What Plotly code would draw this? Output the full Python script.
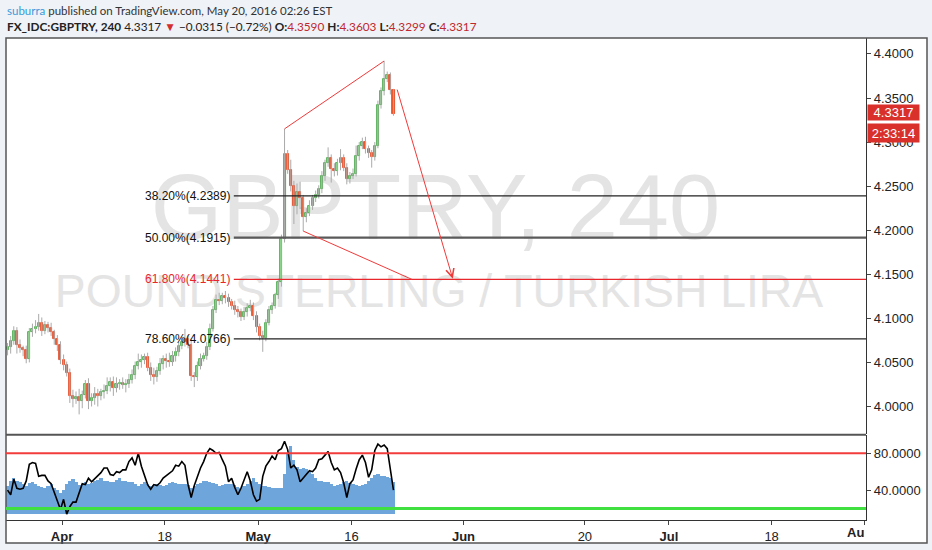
import numpy as np
import plotly.graph_objects as go

# ---------------- data ----------------
origin = "2016-04-01"          # trading-day index 0
first_day = "2016-03-24"       # first bar's trading day
bars_per_day = 3

first_open = 4.064
closes = [
    4.068, 4.074, 4.086, 4.070, 4.066, 4.064, 4.054, 4.085, 4.088, 4.090,
    4.095, 4.086, 4.092, 4.089, 4.084, 4.076, 4.070, 4.053, 4.047, 4.038,
    4.012, 4.009, 4.011, 4.006, 4.013, 4.026, 4.006, 4.010, 4.014, 4.012,
    4.016, 4.018, 4.023, 4.028, 4.021, 4.025, 4.027, 4.024, 4.026, 4.030,
    4.036, 4.046, 4.050, 4.053, 4.056, 4.044, 4.036, 4.033, 4.040, 4.048,
    4.054, 4.052, 4.050, 4.057, 4.062, 4.069, 4.073, 4.076, 4.070, 4.035,
    4.034, 4.046, 4.054, 4.057, 4.068, 4.088, 4.110, 4.121, 4.120, 4.125,
    4.123, 4.118, 4.114, 4.109, 4.107, 4.102, 4.107, 4.112, 4.114, 4.103,
    4.090, 4.080, 4.078, 4.095, 4.109, 4.114, 4.126, 4.141, 4.190, 4.286,
    4.268, 4.250, 4.228, 4.243, 4.236, 4.215, 4.220, 4.228, 4.236, 4.240,
    4.247, 4.262, 4.276, 4.282, 4.270, 4.267, 4.276, 4.282, 4.271, 4.258,
    4.262, 4.264, 4.284, 4.296, 4.300, 4.292, 4.288, 4.283, 4.296, 4.342,
    4.358, 4.372, 4.376, 4.359, 4.3317,
]
up_wick = [
    0.004, 0.006, 0.005, 0.004, 0.006, 0.003, 0.005, 0.004, 0.006, 0.008,
    0.010, 0.006, 0.005, 0.004, 0.006, 0.003, 0.005, 0.004, 0.006, 0.004,
    0.005, 0.007, 0.006, 0.009, 0.005, 0.004, 0.006, 0.005, 0.008, 0.006,
    0.004, 0.007, 0.010, 0.005, 0.006, 0.008, 0.004, 0.006, 0.005, 0.007,
    0.006, 0.005, 0.010, 0.006, 0.004, 0.005, 0.006, 0.008, 0.005, 0.007,
    0.004, 0.006, 0.009, 0.006, 0.005, 0.004, 0.006, 0.012, 0.005, 0.006,
    0.004, 0.005, 0.006, 0.004, 0.005, 0.006, 0.004, 0.006, 0.008, 0.004,
    0.006, 0.005, 0.004, 0.006, 0.005, 0.004, 0.006, 0.005, 0.007, 0.004,
    0.005, 0.004, 0.006, 0.004, 0.005, 0.004, 0.003, 0.004, 0.005, 0.029,
    0.005, 0.012, 0.006, 0.010, 0.012, 0.004, 0.005, 0.006, 0.004, 0.005,
    0.004, 0.005, 0.004, 0.012, 0.004, 0.006, 0.005, 0.010, 0.004, 0.005,
    0.004, 0.006, 0.012, 0.004, 0.005, 0.006, 0.004, 0.003, 0.004, 0.005,
    0.004, 0.020, 0.004, 0.003, 0.0013,
]
dn_wick = [
    0.006, 0.008, 0.004, 0.010, 0.005, 0.007, 0.005, 0.004, 0.006, 0.005,
    0.004, 0.006, 0.004, 0.005, 0.004, 0.006, 0.007, 0.005, 0.006, 0.004,
    0.008, 0.010, 0.006, 0.015, 0.008, 0.004, 0.009, 0.006, 0.008, 0.012,
    0.005, 0.007, 0.004, 0.006, 0.009, 0.005, 0.006, 0.004, 0.008, 0.005,
    0.004, 0.005, 0.004, 0.006, 0.005, 0.004, 0.007, 0.008, 0.005, 0.004,
    0.006, 0.008, 0.005, 0.004, 0.006, 0.005, 0.004, 0.005, 0.004, 0.006,
    0.012, 0.005, 0.004, 0.003, 0.004, 0.004, 0.003, 0.004, 0.005, 0.004,
    0.006, 0.005, 0.004, 0.005, 0.006, 0.005, 0.004, 0.005, 0.004, 0.005,
    0.006, 0.005, 0.016, 0.004, 0.003, 0.004, 0.003, 0.004, 0.005, 0.004,
    0.004, 0.006, 0.021, 0.010, 0.012, 0.016, 0.006, 0.004, 0.005, 0.004,
    0.004, 0.005, 0.006, 0.004, 0.016, 0.006, 0.005, 0.008, 0.004, 0.006,
    0.005, 0.004, 0.003, 0.005, 0.004, 0.005, 0.006, 0.012, 0.004, 0.003,
    0.004, 0.005, 0.004, 0.005, 0.0018,
]
osc_line = [
    40, 35, 52, 42, 41, 42, 50, 68, 70, 69,
    55, 56, 56, 50, 47, 38, 27, 19, 30, 14,
    22, 27, 27, 37, 47, 46, 53, 49, 52, 55,
    59, 64, 64, 57, 56, 60, 59, 62, 62, 71,
    75, 67, 80, 66, 55, 46, 41, 46, 45, 48,
    53, 56, 58, 61, 67, 66, 71, 67, 46, 32,
    45, 55, 64, 71, 80, 85, 83, 80, 81, 73,
    66, 49, 53, 43, 35, 42, 50, 60, 50, 35,
    28, 30, 55, 66, 71, 77, 73, 83, 85, 93,
    84, 64, 67, 62, 49, 53, 56, 61, 60, 64,
    73, 74, 78, 82, 70, 62, 64, 59, 48, 32,
    47, 51, 63, 73, 78, 70, 54, 62, 83, 90,
    87, 89, 85, 62, 40,
]
osc_area = [
    44, 50, 53, 50, 48, 46, 44, 47, 48, 46,
    44, 43, 42, 44, 46, 42, 40, 37, 40, 46,
    50, 52, 48, 45, 46, 48, 46, 47, 49, 51,
    53, 50, 49, 48, 48, 51, 53, 50, 49, 48,
    48, 46, 44, 46, 48, 46, 44, 45, 46, 45,
    44, 45, 47, 48, 47, 46, 46, 46, 45, 42,
    44, 46, 47, 49, 49, 48, 47, 46, 44, 45,
    46, 46, 46, 45, 43, 42, 44, 46, 50, 53,
    48, 46, 44, 44, 43, 42, 42, 42, 42, 57,
    80, 88, 72, 65, 63, 64, 63, 60, 57, 53,
    50, 49, 48, 48, 46, 44, 45, 46, 48, 49,
    47, 46, 45, 44, 45, 46, 49, 53, 56, 57,
    55, 55, 54, 53, 48,
]
area_base = 14
osc_levels = [80, 20]

fib_pct = ["38.20%", "50.00%", "61.80%", "78.60%"]
fib_price = [4.2389, 4.1915, 4.1441, 4.0766]
fib_color = ["#222222", "#5a5a5a", "#e8262b", "#222222"]
fib_width = [1.3, 2.2, 1.3, 1.3]
fib_start = 18.4                     # trading-day index where the fib drawing starts

# drawing anchors (bar indices / trading-day index, price)
top_line_bars = [89, 121]            # highs joined by upper trend line
low_line_bar = 95                    # low where lower trend line starts
low_line_end_t = 37.5
arrow_start = (35.85, 4.3612)
arrow_end = (41.85, 4.1450)

tick_dates = ["2016-04-01", "2016-04-18", "2016-05-01", "2016-05-16", "2016-06-01",
              "2016-06-20", "2016-07-01", "2016-07-18", "2016-08-01"]
tick_text = ["<b>Apr</b>", "18", "<b>May</b>", "16", "<b>Jun</b>", "20", "<b>Jul</b>", "18", ""]

last_price = "4.3317"
countdown = "2:33:14"

# ---------------- derived ----------------
n = len(closes)
day0 = int(np.busday_count(origin, first_day))
t = [day0 + (i + 0.5) / bars_per_day for i in range(n)]
opens = [first_open] + closes[:-1]
highs = [max(o, c) + u for o, c, u in zip(opens, closes, up_wick)]
lows = [min(o, c) - d for o, c, d in zip(opens, closes, dn_wick)]
tick_pos = [int(np.busday_count(origin, d)) for d in tick_dates]

X_MIN, X_MAX = -6.0, 86.11
Y_MIN, Y_MAX = 3.96836, 4.41808
Y2_MIN, Y2_MAX = 7.57, 99.46

FONT = "Liberation Sans, Arial, sans-serif"

L, R, T, B = 6, 66, 38, 28
W, H = 932, 550
pw, ph = W - L - R, H - T - B
def px_x(px):
    return (px - L) / pw
def px_y(py):
    return (H - B - py) / ph

fig = go.Figure()

# oscillator area
fig.add_trace(go.Bar(
    x=t, y=[v - area_base for v in osc_area], base=area_base, width=1 / bars_per_day + 0.01,
    marker=dict(color="#6ea6dc", line=dict(width=0)), xaxis="x2", yaxis="y2",
    hoverinfo="skip", showlegend=False))

# wicks
wx, wy = [], []
for ti, h, l in zip(t, highs, lows):
    wx += [ti, ti, None]
    wy += [l, h, None]
fig.add_trace(go.Scatter(x=wx, y=wy, mode="lines", line=dict(color="#aaaaaa", width=1),
                         hoverinfo="skip", showlegend=False, xaxis="x", yaxis="y"))

# bodies
up = [c >= o for o, c in zip(opens, closes)]
fig.add_trace(go.Bar(
    x=t, y=[c - o for o, c in zip(opens, closes)], base=opens, width=0.22,
    marker=dict(color=["#8fdc8f" if u else "#f2582a" for u in up],
                line=dict(color=["#3a9f3a" if u else "#e0401a" for u in up], width=0.8)),
    xaxis="x", yaxis="y", hoverinfo="skip", showlegend=False))

# fib lines
for p, col, w in zip(fib_price, fib_color, fib_width):
    fig.add_trace(go.Scatter(x=[fib_start, X_MAX], y=[p, p], mode="lines",
                             line=dict(color=col, width=w), hoverinfo="skip",
                             showlegend=False, xaxis="x", yaxis="y"))

# trend lines
fig.add_trace(go.Scatter(x=[t[top_line_bars[0]], t[top_line_bars[1]]],
                         y=[highs[top_line_bars[0]], highs[top_line_bars[1]]],
                         mode="lines", line=dict(color="#f03a3a", width=1),
                         hoverinfo="skip", showlegend=False, xaxis="x", yaxis="y"))
fig.add_trace(go.Scatter(x=[t[low_line_bar], low_line_end_t],
                         y=[lows[low_line_bar], fib_price[2]],
                         mode="lines", line=dict(color="#f03a3a", width=1),
                         hoverinfo="skip", showlegend=False, xaxis="x", yaxis="y"))

# oscillator line
fig.add_trace(go.Scatter(x=t, y=osc_line, mode="lines", line=dict(color="#000000", width=1.6),
                         hoverinfo="skip", showlegend=False, xaxis="x2", yaxis="y2"))

# ---------------- layout ----------------
shapes = [
    dict(type="rect", xref="paper", yref="paper", x0=0, x1=px_x(927), y0=px_y(545), y1=1,
         fillcolor="white", line=dict(width=0), layer="below"),
    # watermark (below all traces)
    dict(type="rect", xref="paper", yref="paper", x0=px_x(135.5), x1=px_x(735.5),
         y0=px_y(229), y1=px_y(169), line=dict(width=0), fillcolor="rgba(0,0,0,0)",
         layer="below",
         label=dict(text="GBPTRY, 240", textposition="middle center",
                    font=dict(family=FONT, size=92, color="#e4e4e4"))),
    dict(type="rect", xref="paper", yref="paper", x0=px_x(39), x1=px_x(839),
         y0=px_y(303), y1=px_y(273), line=dict(width=0), fillcolor="rgba(0,0,0,0)",
         layer="below",
         label=dict(text="POUND STERLING / TURKISH LIRA", textposition="middle center",
                    font=dict(family=FONT, size=46.3, color="#e4e4e4"))),
    dict(type="rect", xref="paper", yref="paper", x0=0, x1=px_x(927), y0=px_y(545), y1=1,
         fillcolor="rgba(0,0,0,0)", line=dict(color="#555555", width=1.5), layer="above"),
    dict(type="line", xref="paper", yref="paper", x0=0, x1=1, y0=px_y(436.5), y1=px_y(436.5),
         line=dict(color="#555555", width=2), layer="above"),
]
lvl_col = ["#f23c3c", "#3fe03f"]
lvl_w = [2, 3]
for lv, c, w in zip(osc_levels, lvl_col, lvl_w):
    shapes.append(dict(type="line", xref="paper", yref="y2", x0=0, x1=1, y0=lv, y1=lv,
                       line=dict(color=c, width=w), layer="above"))

annotations = []
for pct, p, col in zip(fib_pct, fib_price, fib_color):
    annotations.append(dict(x=fib_start, y=p, xref="x", yref="y", text=f"{pct}({p:.4f})",
                            showarrow=False, xanchor="right", yanchor="middle", xshift=-2,
                            font=dict(family=FONT, size=12,
                                      color="#e8262b" if col == "#e8262b" else "#111111")))
annotations.append(dict(x=arrow_end[0], y=arrow_end[1], ax=arrow_start[0], ay=arrow_start[1],
                        xref="x", yref="y", axref="x", ayref="y", text="", showarrow=True,
                        arrowhead=5, arrowsize=1.6, arrowwidth=1, arrowcolor="#f03a3a"))
annotations.append(dict(x=1, xref="paper", y=float(last_price), yref="y", text=last_price,
                        showarrow=False, xanchor="left", yanchor="middle", xshift=1, yshift=2,
                        bgcolor="#d9302c", font=dict(family=FONT, size=13, color="white"),
                        width=49, height=13, borderpad=1, align="center"))
annotations.append(dict(x=1, xref="paper", y=float(last_price), yref="y", text=countdown,
                        showarrow=False, xanchor="left", yanchor="middle", xshift=1, yshift=-19,
                        bgcolor="#d9302c", font=dict(family=FONT, size=13, color="white"),
                        width=49, height=16, borderpad=1, align="center"))
annotations.append(dict(x=1, xref="paper", y=px_y(535), yref="paper", text="<b>Au</b>",
                        showarrow=False, xanchor="right", yanchor="middle",
                        font=dict(family=FONT, size=13, color="#222222")))
red = "#c0282d"
line1 = ("<span style='color:#3a9bd9'>suburra</span> published on TradingView.com, "
         "May 20, 2016 02:26 EST")
line2 = ("<b>FX_IDC:GBPTRY, 240</b> 4.3317 <span style='color:#d32f2f'>▼</span> "
         "−0.0315 (−0.72%) "
         f"<b>O:</b><span style='color:{red}'>4.3590</span> "
         f"<b>H:</b><span style='color:{red}'>4.3603</span> "
         f"<b>L:</b><span style='color:{red}'>4.3299</span> "
         f"<b>C:</b><span style='color:{red}'>4.3317</span>")
annotations.append(dict(x=px_x(5), y=px_y(10), xref="paper", yref="paper", text=line1,
                        showarrow=False, xanchor="left", yanchor="middle",
                        font=dict(family="Lato, sans-serif", size=11.5, color="#333333")))
annotations.append(dict(x=px_x(5), y=px_y(26), xref="paper", yref="paper", text=line2,
                        showarrow=False, xanchor="left", yanchor="middle",
                        font=dict(family="Lato, sans-serif", size=11.8, color="#222222")))

axis_font = dict(family=FONT, size=13, color="#222222")
fig.update_layout(
    width=W, height=H, margin=dict(l=L, r=R, t=T, b=B),
    paper_bgcolor="#eff2f7", plot_bgcolor="rgba(0,0,0,0)",
    showlegend=False, hovermode=False, bargap=0, barmode="overlay",
    xaxis=dict(domain=[0, 1], range=[X_MIN, X_MAX], anchor="y", showticklabels=False,
               showgrid=False, zeroline=False, ticks=""),
    xaxis2=dict(domain=[0, 1], range=[X_MIN, X_MAX], anchor="y2", matches="x",
                tickmode="array", tickvals=tick_pos, ticktext=tick_text,
                ticks="outside", ticklen=4, tickcolor="#444444", showline=True,
                linecolor="#333333", linewidth=1.2, showgrid=False, zeroline=False,
                tickfont=axis_font),
    yaxis=dict(domain=[px_y(436), 1], range=[Y_MIN, Y_MAX], anchor="x", side="right",
               tickmode="linear", tick0=4.0, dtick=0.05, tickformat=".4f",
               ticks="outside", ticklen=4, tickcolor="#444444", showline=True,
               linecolor="#333333", linewidth=1.2, showgrid=False, zeroline=False,
               tickfont=axis_font),
    yaxis2=dict(domain=[0, px_y(437)], range=[Y2_MIN, Y2_MAX], anchor="x2", side="right",
                tickmode="array", tickvals=[40, 80], tickformat=".4f",
                ticks="outside", ticklen=4, tickcolor="#444444", showline=True,
                linecolor="#333333", linewidth=1.2, showgrid=False, zeroline=False,
                tickfont=axis_font),
    shapes=shapes, annotations=annotations,
)

fig.write_html("out.html", config={"displayModeBar": False},
               post_script="document.body.style.margin='0px';")
